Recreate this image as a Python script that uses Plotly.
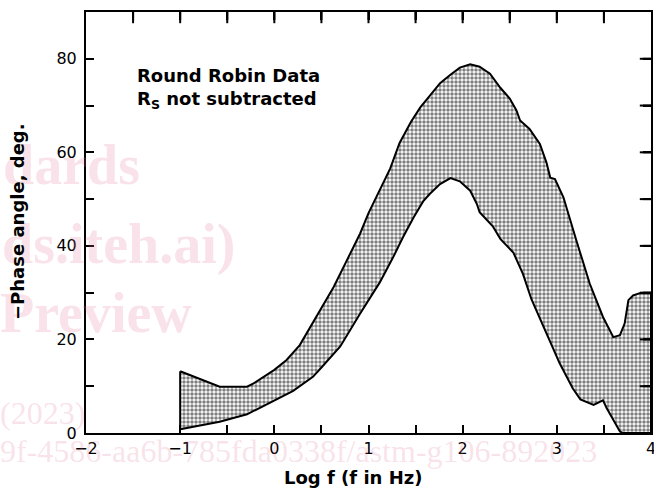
import plotly.graph_objects as go

# Upper boundary of the round-robin band (log f, -phase deg)
upper_x = [-1.0, -0.58, -0.29, -0.22, 0.0, 0.13, 0.27, 0.41, 0.52, 0.63, 0.77, 0.91, 1.0,
           1.12, 1.23, 1.33, 1.45, 1.55, 1.65, 1.76, 1.87, 1.97, 2.08, 2.18, 2.29, 2.40,
           2.50, 2.57, 2.61, 2.71, 2.82, 2.89, 2.93, 2.98, 3.07, 3.17, 3.21, 3.35, 3.49,
           3.60, 3.67, 3.72, 3.76, 3.81, 3.88, 4.0]
upper_y = [13.2, 9.9, 9.9, 10.6, 13.5, 15.6, 18.8, 23.5, 27.5, 31.2, 36.9, 42.6, 47.0,
           52.0, 56.5, 62.0, 66.5, 69.6, 72.2, 74.8, 76.6, 78.1, 78.8, 78.3, 76.8, 73.8,
           71.5, 69.0, 66.8, 65.0, 61.8, 57.8, 54.6, 54.3, 50.4, 44.0, 41.0, 31.9, 24.8,
           20.5, 20.9, 23.4, 28.4, 29.4, 29.9, 29.9]

# Lower boundary of the band
lower_x = [-1.0, -0.58, -0.29, 0.0, 0.2, 0.41, 0.5, 0.70, 0.91, 1.12, 1.26, 1.37, 1.48,
           1.58, 1.65, 1.76, 1.87, 1.97, 2.08, 2.15, 2.18, 2.32, 2.40, 2.54, 2.64, 2.73,
           2.89, 3.03, 3.17, 3.25, 3.39, 3.49, 3.53, 3.67, 3.70, 4.0]
lower_y = [0.8, 2.4, 4.0, 7.0, 9.0, 12.0, 14.0, 18.5, 25.5, 32.2, 37.5, 42.0, 46.1,
           49.5, 51.1, 53.2, 54.5, 53.8, 51.8, 49.0, 47.2, 44.2, 41.5, 38.5, 34.0, 28.6,
           21.3, 14.9, 9.5, 7.2, 6.0, 7.0, 5.3, 0.3, 0.0, 0.0]

# tick positions
x_bottom_minor = [-0.5, 0.5, 1.5, 2.5, 3.5]
x_top_ticks = [-1.5, -1.0, -0.5, 0.0, 0.5, 1.0, 1.5, 2.0, 2.5, 3.0, 3.5]
y_right_ticks = [10, 20, 30, 40, 50, 60, 70, 80]
X_RANGE = [-2, 4]
Y_RANGE = [0, 90]

# closed polygon: upper left->right, lower right->left, back to start
poly_x = upper_x + lower_x[::-1] + [upper_x[0]]
poly_y = upper_y + lower_y[::-1] + [upper_y[0]]

fig = go.Figure()
fig.add_trace(go.Scatter(
    x=poly_x, y=poly_y, mode="lines", fill="toself",
    fillcolor="white",
    fillpattern=dict(shape=".", fgcolor="black", bgcolor="white", size=4, solidity=0.6),
    line=dict(color="black", width=2),
    hoverinfo="skip", showlegend=False,
))

W, H = 654, 493
L, R, T, B = 86, 3, 12, 60
TICK = 8

# inward frame ticks on top and right: line markers centred on the frame,
# the outer half is clipped away by the plot area
fig.add_trace(go.Scatter(
    x=x_top_ticks, y=[Y_RANGE[1]] * len(x_top_ticks), mode="markers",
    marker=dict(symbol="line-ns", size=2 * TICK, line=dict(color="black", width=2)),
    cliponaxis=True, hoverinfo="skip", showlegend=False,
))
fig.add_trace(go.Scatter(
    x=[X_RANGE[1]] * len(y_right_ticks), y=y_right_ticks, mode="markers",
    marker=dict(symbol="line-ew", size=2 * TICK, line=dict(color="black", width=2)),
    cliponaxis=True, hoverinfo="skip", showlegend=False,
))

for xv in x_top_ticks:
    fig.add_shape(type="line", xref="x", yref="y", x0=xv, x1=xv,
                  ysizemode="pixel", yanchor=Y_RANGE[1], y0=-TICK, y1=0,
                  line=dict(color="black", width=2), layer="above")
for yv in y_right_ticks:
    fig.add_shape(type="line", xref="x", yref="y", y0=yv, y1=yv,
                  xsizemode="pixel", xanchor=X_RANGE[1], x0=-TICK, x1=0,
                  line=dict(color="black", width=2), layer="above")

# plot area placed through axis domains (paper = whole figure)
x_dom = [L / W, (W - R) / W]
y_dom = [B / H, (H - T) / H]


def px(xp):
    return xp / W


def py(yp):
    return 1 - yp / H


wm_color = "rgba(225,110,145,0.2)"
watermarks = [
    ("dards", 1, 165, 56, True),
    ("ds.iteh.ai)", 0, 244, 56, True),
    ("Preview", -2, 313, 56, True),
    ("(2023)", -2, 413, 32, False),
    ("9f-4586-aa6b-785fda0338f/astm-g106-892023", -2, 451, 32, False),
]
for txt, xl, yc, sz, bold in watermarks:
    fig.add_annotation(
        x=px(xl), y=py(yc), xref="paper", yref="paper", xanchor="left", yanchor="middle",
        text=f"<b>{txt}</b>" if bold else txt, showarrow=False,
        font=dict(family="Liberation Serif", size=sz, color=wm_color),
    )

fig.add_annotation(
    x=px(135), y=py(63), xref="paper", yref="paper", xanchor="left", yanchor="top",
    text="<b>Round Robin Data</b><br><b>R<sub>S</sub> not subtracted</b>",
    showarrow=False, align="left",
    font=dict(family="DejaVu Sans", size=18, color="black"),
)

# axis titles
fig.add_annotation(
    x=px(353), y=py(477), xref="paper", yref="paper", xanchor="center", yanchor="middle",
    text="<b>Log f (f in Hz)</b>", showarrow=False,
    font=dict(family="DejaVu Sans", size=18, color="black"),
)
fig.add_annotation(
    x=px(17), y=py(222), xref="paper", yref="paper", xanchor="center", yanchor="middle",
    text="<b>\u2212Phase angle, deg.</b>", showarrow=False, textangle=-90,
    font=dict(family="DejaVu Sans", size=18, color="black"),
)

axis_common = dict(
    showline=True, linecolor="black", linewidth=2, mirror="ticks",
    ticks="inside", ticklen=TICK, tickwidth=2, tickcolor="black",
    showgrid=False, zeroline=False, ticklabeloverflow="allow",
    tickfont=dict(family="DejaVu Sans", size=16, color="black"),
)

fig.update_layout(
    width=W, height=H,
    margin=dict(l=0, r=0, t=0, b=0, pad=0, autoexpand=False),
    paper_bgcolor="white", plot_bgcolor="white",
    xaxis=dict(domain=x_dom, range=X_RANGE, tickmode="linear", tick0=0, dtick=1,
               minor=dict(tickmode="array", tickvals=x_bottom_minor, ticks="inside",
                          ticklen=TICK, tickwidth=2, tickcolor="black"),
               **axis_common),
    yaxis=dict(domain=y_dom, range=Y_RANGE, tickmode="linear", tick0=0, dtick=20,
               ticklabelstandoff=4,
               minor=dict(tickmode="linear", tick0=0, dtick=10, ticks="inside",
                          ticklen=TICK, tickwidth=2, tickcolor="black"),
               **axis_common),
    font=dict(family="DejaVu Sans"),
)

fig.write_html("out.html")
